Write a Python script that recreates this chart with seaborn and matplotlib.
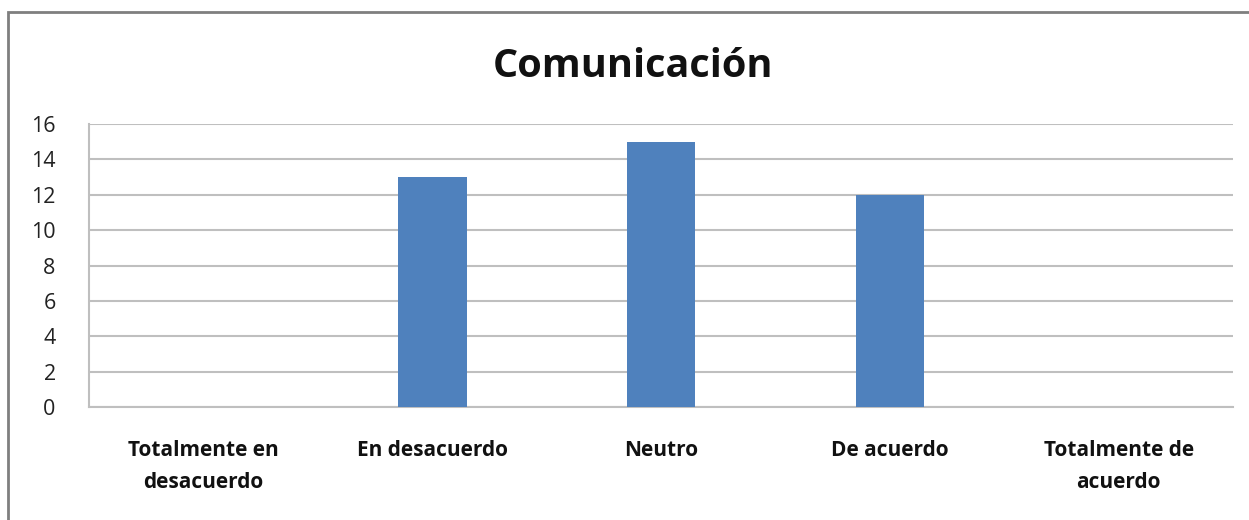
import pandas as pd
import seaborn as sns
import matplotlib.pyplot as plt
from matplotlib.patches import Rectangle

categories = ["Totalmente en\ndesacuerdo", "En desacuerdo", "Neutro", "De acuerdo", "Totalmente de\nacuerdo"]
values = [0, 13, 15, 12, 0]
yticks = [0, 2, 4, 6, 8, 10, 12, 14, 16]

df = pd.DataFrame({"cat": categories, "val": values})

sns.set_theme(style="white")
plt.rcParams["font.family"] = ["Open Sans", "DejaVu Sans"]

fig = plt.figure(figsize=(12.49, 5.2), dpi=100)
ax = fig.add_axes([0.0713, 0.2173, 0.9159, 0.5442])

sns.barplot(data=df, x="cat", y="val", color="#4F81BD", saturation=1, width=0.3,
            linewidth=0, ax=ax, zorder=3)

ax.set_ylim(0, 16)
ax.set_xlim(-0.5, 4.5)
ax.set_yticks(yticks)
ax.yaxis.grid(True, color="#BFBFBF", linewidth=1.5, zorder=0)
ax.set_axisbelow(True)
for s in ["top", "right"]:
    ax.spines[s].set_visible(False)
for s in ["left", "bottom"]:
    ax.spines[s].set_color("#BFBFBF")
    ax.spines[s].set_linewidth(1.5)
ax.tick_params(axis="y", length=0, pad=24, labelsize=15.5, labelcolor="#222222")
ax.tick_params(axis="x", length=0, pad=24, labelsize=15, labelcolor="#111111")
for lbl in ax.get_xticklabels():
    lbl.set_fontweight("bold")
    lbl.set_linespacing(1.65)
ax.set_xlabel("")
ax.set_ylabel("")

fig.text(0.507, 0.873, "Comunicación", ha="center", va="center", fontsize=28.5, fontweight="bold", color="#111111")

# outer chart border (cropped at right and bottom)
fig.patches.append(Rectangle((8 / 1249, -0.05), 1.1, 1 - 12 / 520 + 0.05, transform=fig.transFigure,
                             fill=False, edgecolor="#7F7F7F", linewidth=2))

plt.savefig("out.png", dpi=100)
